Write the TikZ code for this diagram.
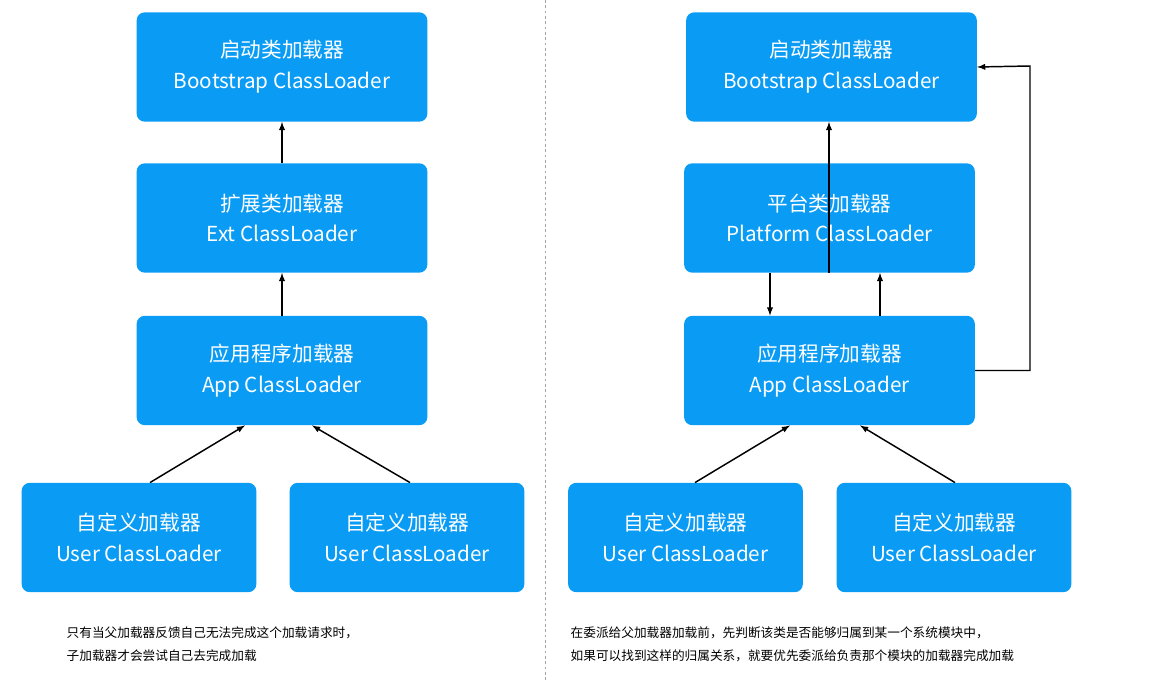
\documentclass[tikz,border=0pt]{standalone}
\usepackage{fontspec}
\setmainfont{Noto Sans CJK SC}
\usetikzlibrary{positioning}
\definecolor{loaderblue}{RGB}{10,156,245}
\tikzset{
  loader/.style={fill=loaderblue, rounded corners=6pt, text=white, align=center,
    font=\fontsize{15.5}{23}\selectfont, minimum width=218pt, minimum height=82pt, inner sep=0pt},
  user/.style={loader, minimum width=176pt},
  up/.style={-latex, line width=1.1pt},
  note/.style={align=left, anchor=north west, font=\fontsize{9.5}{17}\selectfont}
}
\begin{document}
\begin{tikzpicture}[x=0.75pt,y=0.75pt,yscale=-1,xscale=1]
\useasboundingbox (0,0) rectangle (1153,680);

%divider
\draw [dash pattern={on 2pt off 2pt}, gray!70] (545,0) -- (545,680);

%left: classic delegation
\node [loader] (boot) at (282,67) {启动类加载器\\Bootstrap ClassLoader};
\node [loader] (ext) at (282,218) {扩展类加载器\\Ext ClassLoader};
\node [loader] (app) at (282,370.5) {应用程序加载器\\App ClassLoader};
\node [user] (userA) at (139,537.5) {自定义加载器\\User ClassLoader};
\node [user] (userB) at (407,537.5) {自定义加载器\\User ClassLoader};

\draw [up] (ext) -- (boot);
\draw [up] (app) -- (ext);
\draw [up] (userA.north -| 150,0) -- (app.south -| 245,0);
\draw [up] (userB.north -| 410,0) -- (app.south -| 312,0);

% Text Node
\node [note] (noteL) at (62,622) {只有当父加载器反馈自己无法完成这个加载请求时，\\子加载器才会尝试自己去完成加载};

%right: modular delegation
\node [loader] (boot2) at (831.5,67) {启动类加载器\\Bootstrap ClassLoader};
\node [loader] (plat) at (829.5,218) {平台类加载器\\Platform ClassLoader};
\node [loader] (app2) at (829.5,370.5) {应用程序加载器\\App ClassLoader};
\node [user] (userC) at (685.5,537.5) {自定义加载器\\User ClassLoader};
\node [user] (userD) at (954,537.5) {自定义加载器\\User ClassLoader};

\draw [up] (plat.south -| 829,0) -- (boot2.south -| 829,0);
\draw [up] (plat.south -| 770,0) -- (app2.north -| 770,0);
\draw [up] (app2.north -| 880,0) -- (plat.south -| 880,0);
\draw [up] (app2.east) -- (1030,370.5) -- (1030,66) -- (boot2.east);
\draw [up] (userC.north -| 695,0) -- (app2.south -| 790,0);
\draw [up] (userD.north -| 955,0) -- (app2.south -| 860,0);

% Text Node
\node [note] (noteR) at (566,622) {在委派给父加载器加载前，先判断该类是否能够归属到某一个系统模块中，\\如果可以找到这样的归属关系，就要优先委派给负责那个模块的加载器完成加载};
\end{tikzpicture}
\end{document}
